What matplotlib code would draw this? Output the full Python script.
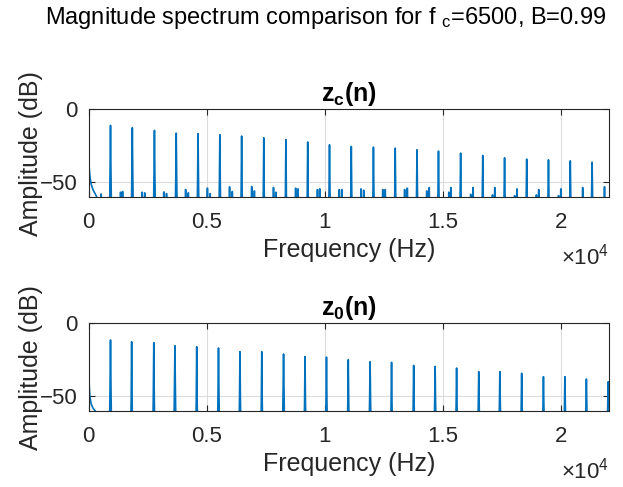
import numpy as np
import matplotlib
matplotlib.use('Agg')
import matplotlib.pyplot as plt

plt.rcParams['font.family'] = 'Liberation Sans'
plt.rcParams['mathtext.fontset'] = 'custom'
plt.rcParams['mathtext.rm'] = 'Liberation Sans'
plt.rcParams['mathtext.it'] = 'Liberation Sans'
plt.rcParams['mathtext.bf'] = 'Liberation Sans:bold'

fc = 6500
B = 0.99

# harmonics of z_c(n): frequency (Hz), peak level (dB), level where the peak base widens (dB)
zc_freq = [923, 1847, 2784, 3707, 4631, 5554, 6477, 7415, 8352, 9276, 10199, 11122,
           12060, 12983, 13906, 14815, 15753, 16690, 17614, 18551, 19474, 20398, 21321]
zc_level = [-11.0, -12.6, -14.4, -16.3, -16.7, -17.4, -18.3, -19.5, -20.8, -22.4, -24.3, -25.4,
            -25.9, -26.6, -27.7, -28.6, -30.0, -31.6, -33.2, -34.1, -34.6, -35.3, -36.2]
zc_skirt = [-43.7, -44.9, -46.0, -47.2, -49.5, -51.5, -55.0, -57.0, -57.0, -57.0, -55.0, -56.0,
            -56.0, -57.0, -57.0, -56.0, -57.0, -58.0, -58.0, -58.0, -58.0, -58.0, -58.0]

# small sidebands sitting between the harmonics of z_c(n)
zc_side_freq = [526, 1349, 1435, 2259, 2372, 3182, 3295, 4105, 4219, 5028, 5142, 5966, 6080,
                6903, 7017, 7827, 7926, 8764, 8864, 9688, 9787, 10611, 10724, 11534, 11648,
                12457, 12557, 13381, 13494, 14318, 14418, 15256, 15341, 16179, 16278,
                17102, 17202, 18040, 18139, 18963, 19062, 19900, 20000, 20923, 21847]
zc_side_level = [-58.0, -56.8, -56.3, -56.8, -57.2, -56.6, -57.7, -55.0, -57.2, -54.0, -57.7,
                 -53.1, -56.3, -52.9, -55.9, -53.6, -56.8, -54.0, -54.5, -55.0, -54.5,
                 -55.0, -55.0, -54.5, -55.4, -55.0, -55.0, -55.0, -54.0, -55.9, -53.6,
                 -56.8, -53.6, -58.2, -53.6, -58.6, -53.6, -59.1, -54.5, -58.6, -55.0,
                 -59.1, -54.5, -53.6, -53.1]

# harmonics of z_0(n)
z0_freq = [923, 1818, 2756, 3651, 4574, 5497, 6406, 7330, 8253, 9162, 10071, 10994,
           11918, 12827, 13764, 14673, 15582, 16520, 17415, 18338, 19261, 20170, 21080, 22003]
z0_level = [-11.4, -12.6, -13.2, -15.3, -16.0, -16.9, -19.4, -19.4, -21.0, -22.8, -23.1, -24.9,
            -26.3, -26.7, -28.8, -29.5, -30.6, -33.1, -33.1, -34.2, -36.5, -36.5, -38.1, -40.0]
z0_skirt = [-43.6, -52.7, -49.3, -44.7, -53.9, -48.2, -52.7, -54.0, -45.9, -55.0, -54.0, -54.0,
            -52.0, -55.0, -55.0, -55.0, -56.0, -56.0, -56.0, -57.0, -57.0, -57.0, -57.0, -57.0]

# roll-off next to DC
dc_freq = [0, 20, 50, 100, 180, 280, 400]
zc_dc_level = [-32.0, -40.0, -46.0, -51.0, -55.0, -58.0, -62.0]
z0_dc_level = [-33.0, -42.0, -50.0, -55.0, -58.0, -60.0, -63.0]

floor_db = -80
fs_half = 22050
line_color = '#0072BD'
ink = '#262626'


def spectrum_trace(dc_level, freq, level, skirt, side_freq=(), side_level=()):
    xs = list(dc_freq)
    ys = list(dc_level)
    marks = [(f, l, s, 20, 50) for f, l, s in zip(freq, level, skirt)]
    marks += [(f, l, l, 6, 25) for f, l in zip(side_freq, side_level)]
    marks.sort()
    for f, l, s, w1, w2 in marks:
        xs += [f - w2, f - w1, f, f + w1, f + w2]
        ys += [floor_db, s, l, s, floor_db]
    return np.array(xs), np.array(ys)


def style_axes(ax, title):
    ax.set_xlim(0, fs_half)
    ax.set_ylim(-60, 0)
    ax.set_xticks([0, 5000, 10000, 15000, 20000])
    ax.set_xticklabels(['0', '0.5', '1', '1.5', '2'])
    ax.set_yticks([-50, 0])
    ax.grid(True, color='#dcdcdc', lw=0.8)
    ax.set_axisbelow(True)
    for sp in ax.spines.values():
        sp.set_color(ink)
        sp.set_linewidth(0.8)
    ax.tick_params(direction='in', length=4, width=0.8, color=ink, labelcolor=ink,
                   labelsize=16, top=True, right=True)
    ax.tick_params(axis='x', pad=11)
    ax.tick_params(axis='y', pad=8)
    ax.set_xlabel('Frequency (Hz)', fontsize=18, color=ink)
    ax.set_ylabel('Amplitude (dB)', fontsize=18, color=ink)
    ax.xaxis.set_label_coords(0.5, -0.47)
    ax.yaxis.set_label_coords(-0.088, 0.5)
    ax.set_title(title, fontsize=18, fontweight='bold', pad=6)
    ax.text(1.0, -0.53, r'$\times10^{4}$', transform=ax.transAxes, ha='right', va='top',
            fontsize=16, color=ink)


fig = plt.figure(figsize=(6.23, 4.87), dpi=100)
ax1 = fig.add_axes([0.1424, 0.5955, 0.8356, 0.180])
ax2 = fig.add_axes([0.1424, 0.156, 0.8356, 0.180])

x, y = spectrum_trace(zc_dc_level, zc_freq, zc_level, zc_skirt, zc_side_freq, zc_side_level)
ax1.plot(x, y, color=line_color, lw=1.2)
style_axes(ax1, r'$\mathbf{z_c}$(n)')

x, y = spectrum_trace(z0_dc_level, z0_freq, z0_level, z0_skirt)
ax2.plot(x, y, color=line_color, lw=1.2)
style_axes(ax2, r'$\mathbf{z_0}$(n)')

fig.text(0.523, 0.99, 'Magnitude spectrum comparison for f $_{\\mathregular{c}}$=%d, B=%.2f' % (fc, B),
         ha='center', va='top', fontsize=17, color='black')

fig.savefig('out.png', dpi=100)
